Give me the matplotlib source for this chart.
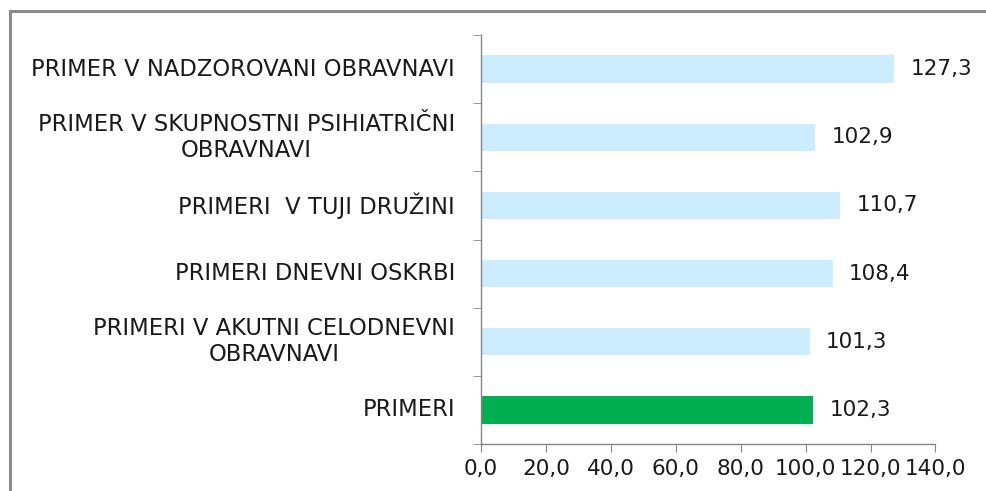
from matplotlib import pyplot as plt
from matplotlib.patches import Rectangle

# data (top to bottom as shown)
categories = ['PRIMER V NADZOROVANI OBRAVNAVI',
              'PRIMER V SKUPNOSTNI PSIHIATRIČNI\nOBRAVNAVI',
              'PRIMERI  V TUJI DRUŽINI',
              'PRIMERI DNEVNI OSKRBI',
              'PRIMERI V AKUTNI CELODNEVNI\nOBRAVNAVI',
              'PRIMERI']
values = [127.3, 102.9, 110.7, 108.4, 101.3, 102.3]
colors = ['#CCECFF', '#CCECFF', '#CCECFF', '#CCECFF', '#CCECFF', '#00B050']
xticks = [0, 20, 40, 60, 80, 100, 120, 140]

plt.rcParams['font.family'] = ['DejaVu Sans']
fs = 15.5

fig = plt.figure(figsize=(9.87, 4.91), dpi=100)
ax = fig.add_axes([481/987, 1-444/491, (935.5-481)/987, (444-35)/491])

# outer chart frame
fig.patches.append(Rectangle((10/987, -0.1), 1.2, 1.1-11/491, transform=fig.transFigure,
                             fill=False, edgecolor='#8C8C8C', linewidth=2.2))

pos = list(range(len(values)))[::-1]
ax.barh(pos, values, height=0.4, color=colors)
for p, v in zip(pos, values):
    ax.text(v + 5.0, p, f'{v:.1f}'.replace('.', ','), va='center', ha='left',
            fontsize=fs, color='#1a1a1a')

ax.set_xlim(0, 140)
ax.set_ylim(-0.5, len(values) - 0.5)
ax.set_xticks(xticks)
ax.set_xticklabels([f'{x:.1f}'.replace('.', ',') for x in xticks], fontsize=fs, color='#1a1a1a')

# category labels
ax.set_yticks([])
for p, c in zip(pos, categories):
    ax.text(-8, p, c, ha='right', va='center', ma='center', fontsize=16.3, color='#1a1a1a',
            linespacing=1.15)
# boundary ticks on y axis
ax.set_yticks([i - 0.5 for i in range(len(values) + 1)], minor=True)
ax.tick_params(axis='y', which='minor', length=6, color='#868686', direction='out')
ax.tick_params(axis='x', length=6, color='#868686', direction='out', pad=5)

for s in ['top', 'right']:
    ax.spines[s].set_visible(False)
for s in ['left', 'bottom']:
    ax.spines[s].set_color('#868686')
    ax.spines[s].set_linewidth(1)

fig.savefig('out.png', dpi=100)
